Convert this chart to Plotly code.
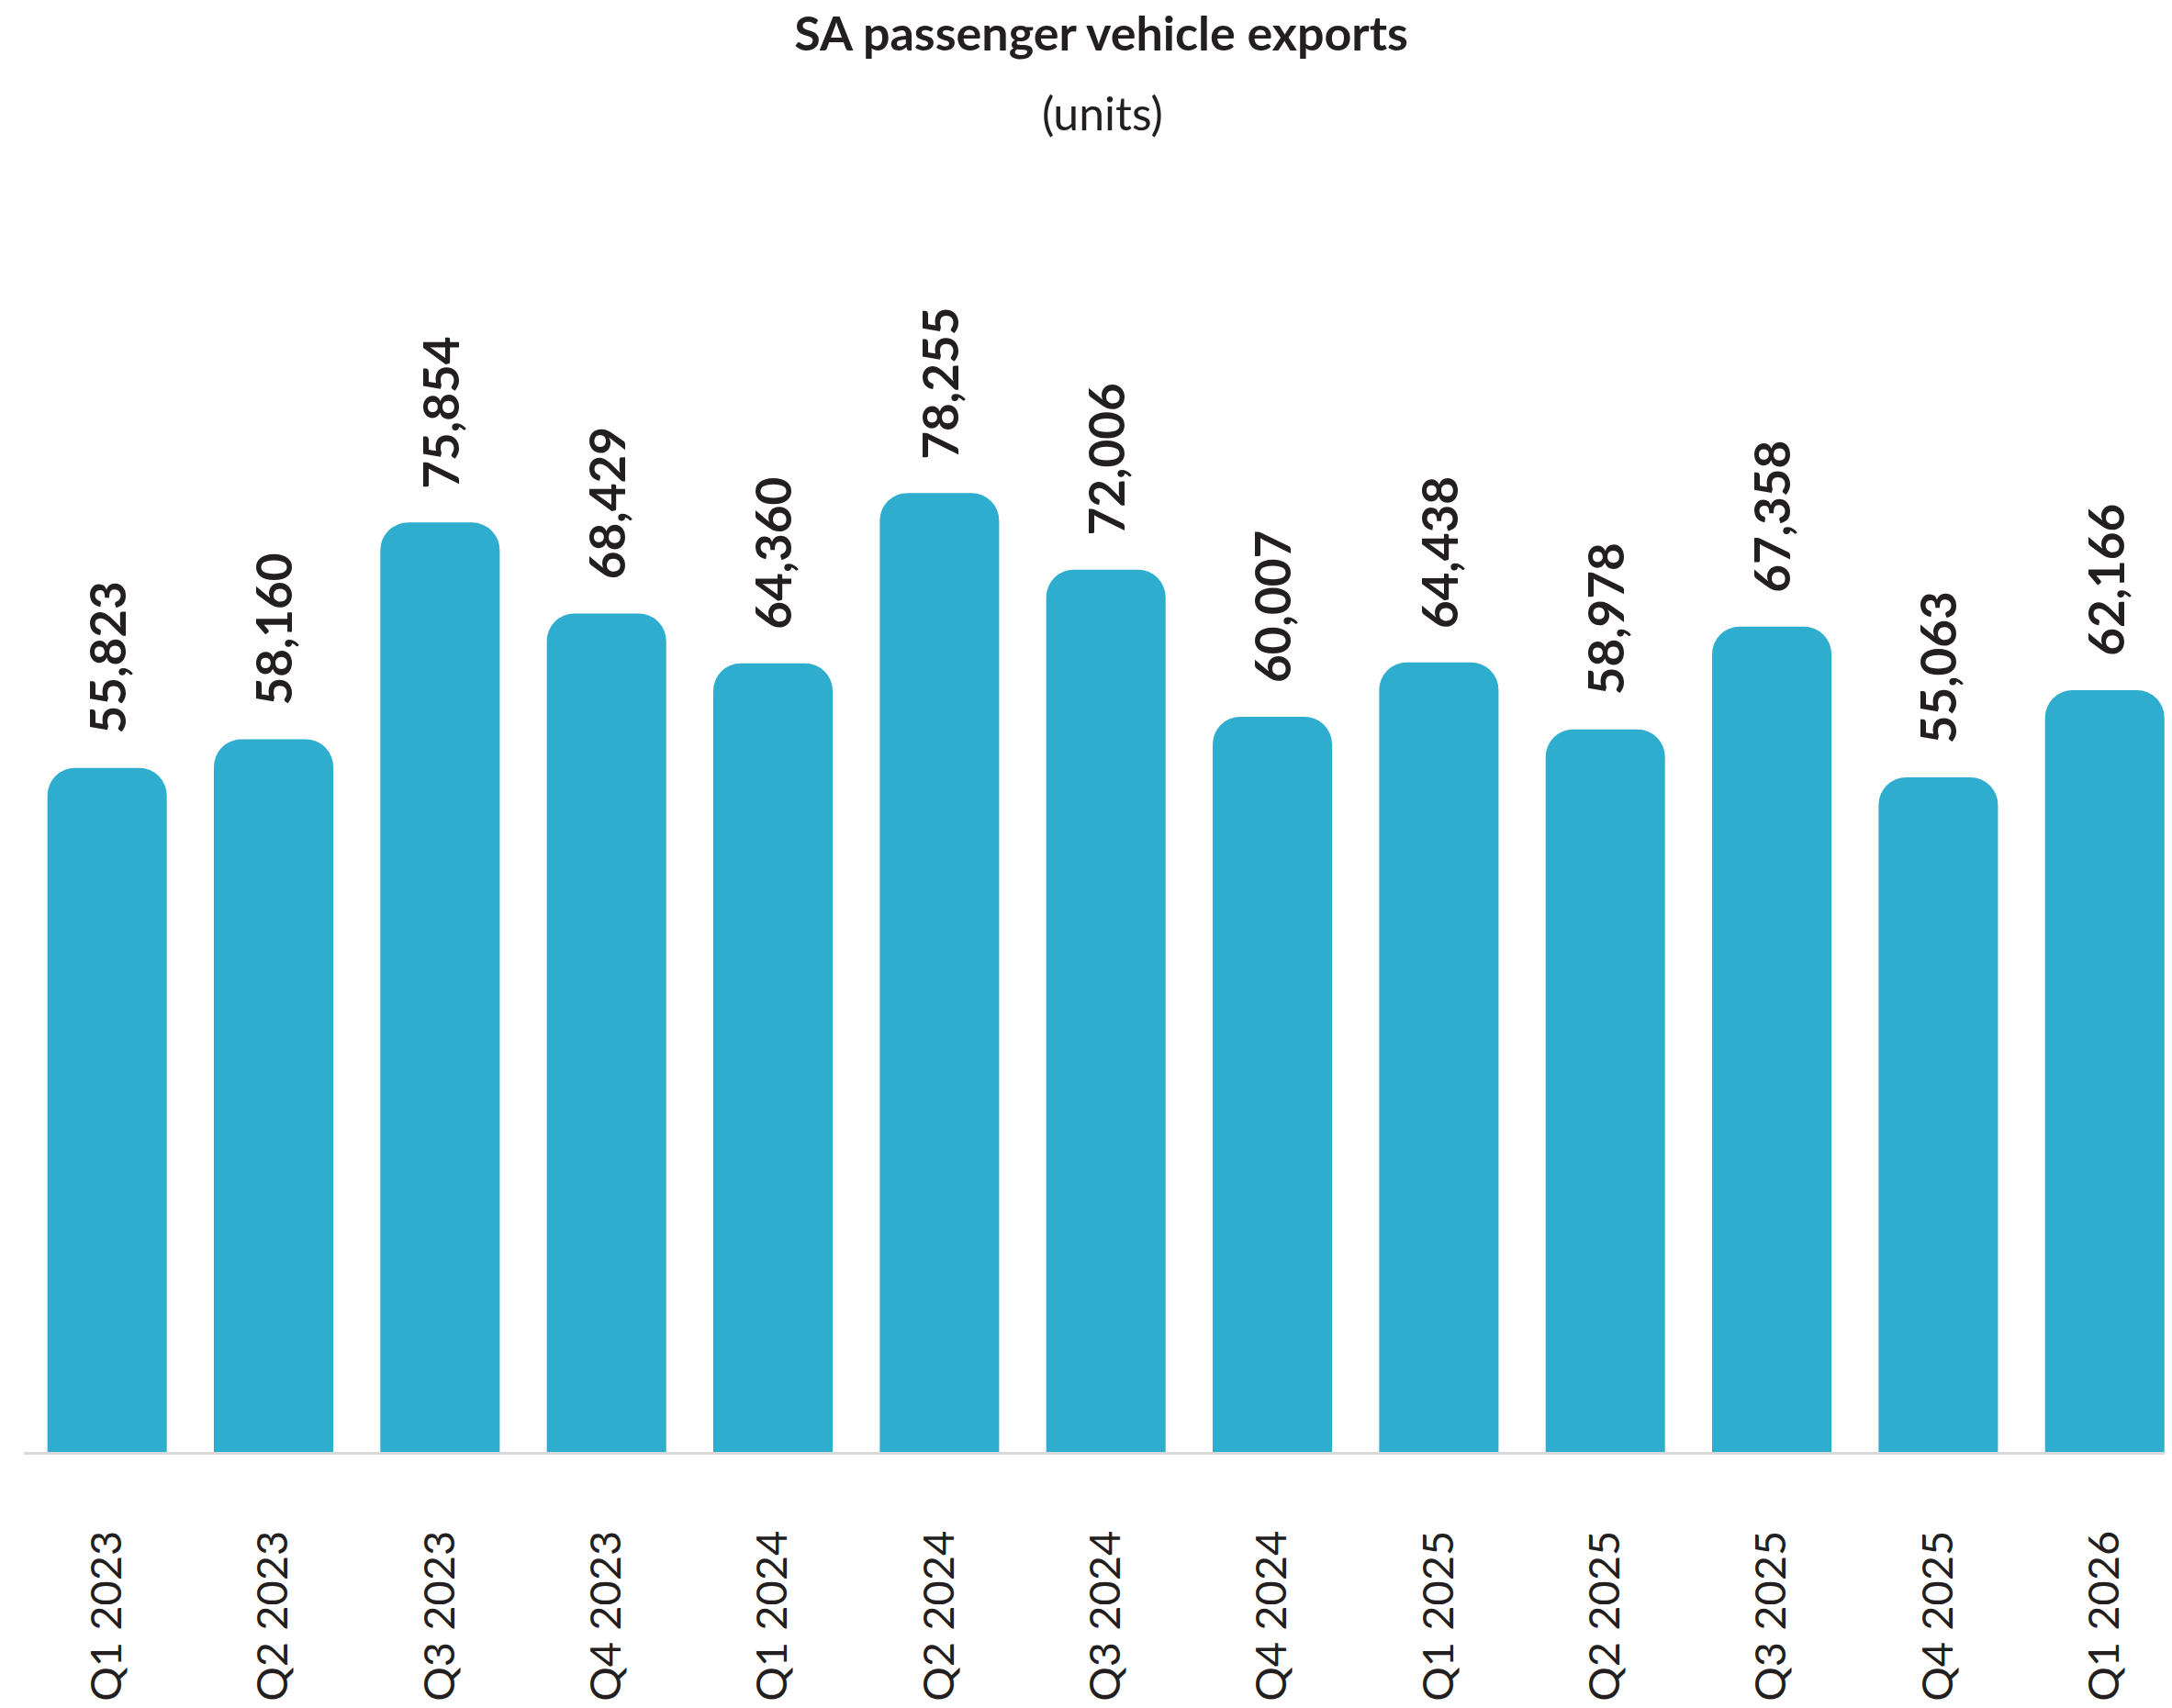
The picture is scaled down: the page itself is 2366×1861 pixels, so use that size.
import plotly.graph_objects as go

# Quarterly SA passenger vehicle exports (units)
quarters = ["Q1 2023", "Q2 2023", "Q3 2023", "Q4 2023",
            "Q1 2024", "Q2 2024", "Q3 2024", "Q4 2024",
            "Q1 2025", "Q2 2025", "Q3 2025", "Q4 2025",
            "Q1 2026"]
exports = [55823, 58160, 75854, 68429,
           64360, 78255, 72006, 60007,
           64438, 58978, 67358, 55063,
           62166]

BAR_COLOR = "#2EADCF"
TEXT_COLOR = "#231F20"
FONT = "Lato"

W, H = 2366, 1861
M_L, M_R, M_T, M_B = 26, 8, 200, 279
plot_h = H - M_T - M_B
px_per_unit = 0.01335
y_max = plot_h / px_per_unit

fig = go.Figure(
    go.Bar(
        x=quarters,
        y=exports,
        marker=dict(color=BAR_COLOR, line=dict(width=0), cornerradius=30),
        hoverinfo="x+y",
    )
)

# value labels standing above each bar
for q, v in zip(quarters, exports):
    fig.add_annotation(
        x=q, y=v, xref="x", yref="y",
        text=f"{v:,}",
        textangle=-90,
        showarrow=False,
        xanchor="center", yanchor="bottom",
        yshift=35,
        font=dict(family=FONT, size=53, color=TEXT_COLOR, weight="bold"),
    )

# subtitle
fig.add_annotation(
    x=0.504, y=1 + (M_T - 123) / plot_h, xref="paper", yref="paper",
    text="(units)", showarrow=False,
    xanchor="center", yanchor="middle",
    font=dict(family=FONT, size=50, color=TEXT_COLOR),
)

fig.update_layout(
    width=W, height=H,
    margin=dict(l=M_L, r=M_R, t=M_T, b=M_B, autoexpand=False),
    paper_bgcolor="white",
    plot_bgcolor="white",
    bargap=0.283,
    showlegend=False,
    title=dict(
        text="<b>SA passenger vehicle exports</b>",
        x=0.507, xanchor="center",
        y=1 - 37 / H, yanchor="middle",
        font=dict(family=FONT, size=52, color=TEXT_COLOR, weight=900),
    ),
    xaxis=dict(
        range=[-0.5, 12.36],
        automargin=False,
        showgrid=False,
        showline=True,
        linecolor="#D9D9D9",
        linewidth=3,
        ticks="",
        tickangle=-90,
        ticklabelstandoff=64,
        tickfont=dict(family=FONT, size=47, color=TEXT_COLOR),
        fixedrange=True,
    ),
    yaxis=dict(
        range=[0, y_max],
        visible=False,
        showgrid=False,
        zeroline=False,
        fixedrange=True,
    ),
)

fig.write_html("out.html")
